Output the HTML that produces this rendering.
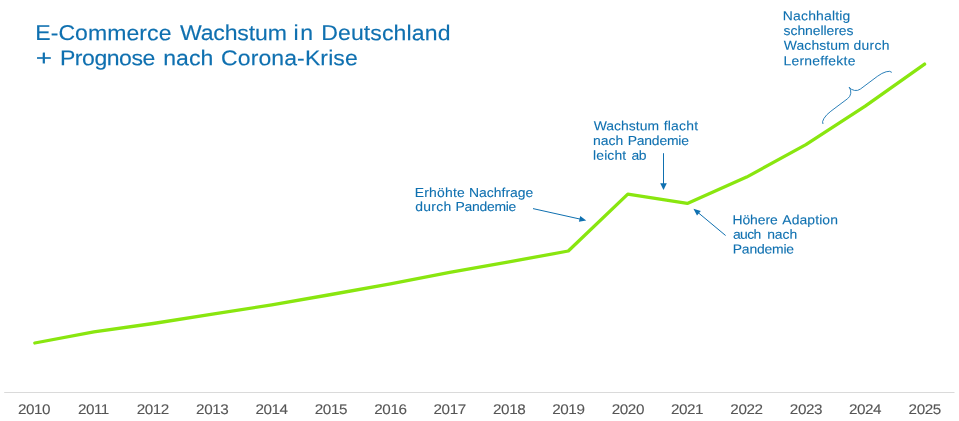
<!DOCTYPE html>
<html>
<head>
<meta charset="utf-8">
<style>
html,body{margin:0;padding:0;background:#fff;}
body{width:959px;height:421px;position:relative;overflow:hidden;font-family:"Liberation Sans",sans-serif;}
.l{position:absolute;white-space:nowrap;line-height:1;transform-origin:0 0;}
svg{position:absolute;left:0;top:0;}
.tx{position:absolute;left:0;top:0;width:959px;height:421px;will-change:transform;}
</style>
</head>
<body>
<svg width="959" height="421" viewBox="0 0 959 421">
  <line x1="4.2" y1="392.5" x2="954.5" y2="392.5" stroke="#dadada" stroke-width="1"/>
  <polyline fill="none" stroke="#89e60f" stroke-width="3.3" stroke-linecap="round" stroke-linejoin="round"
    points="34.8,343 93.9,331.8 153.2,323.5 212.5,314.1 271.8,304.9 331.1,294.5 390.4,283.8 449.7,272.3 509,261.9 568.3,251 627.8,194.1 687.3,203.4 746.6,177.1 805.9,144.6 865.2,106.2 924.6,64.1"/>
  <g stroke="#0f70b0" stroke-width="1" fill="#0f70b0">
    <line x1="533" y1="208.6" x2="581.5" y2="219.4"/>
    <polygon stroke="none" points="586.2,220.4 578.9,221.8 580.2,216.1"/>
    <line x1="663.5" y1="153.2" x2="663.5" y2="184"/>
    <polygon stroke="none" points="663.5,189.9 660.2,183.2 666.8,183.2"/>
    <line x1="725.6" y1="235.5" x2="697.5" y2="212.1"/>
    <polygon stroke="none" points="693.4,208.8 700.8,211 697,215.6"/>
  </g>
  <g transform="translate(823,124) rotate(-36.87)">
    <path fill="none" stroke="#2a7fb8" stroke-width="0.9" d="M0,0 A14,5.5 0 0 1 14,-5.5 L35,-5.5 A8,8.3 0 0 0 43,-13.8 A8,8.3 0 0 0 51,-5.5 L72,-5.5 A14,5.5 0 0 1 86,0"/>
  </g>
</svg>
<div class="tx">
<div class="l" style="left:35px;top:23px;font-size:21.5px;letter-spacing:0.078px;color:#0f70b0;-webkit-text-stroke:0.15px #0f70b0;transform:translate(0.25px,0.10px) rotate(0.03deg) scaleX(1.07)">E-Commerce</div>
<div class="l" style="left:180px;top:23px;font-size:21.5px;letter-spacing:-0.134px;color:#0f70b0;-webkit-text-stroke:0.15px #0f70b0;transform:translate(0.00px,0.10px) rotate(0.03deg) scaleX(1.07)">Wachstum</div>
<div class="l" style="left:293px;top:23px;font-size:21.5px;letter-spacing:1.495px;color:#0f70b0;-webkit-text-stroke:0.15px #0f70b0;transform:translate(0.60px,0.10px) rotate(0.03deg) scaleX(1.07)">in</div>
<div class="l" style="left:321px;top:23px;font-size:21.5px;letter-spacing:0.121px;color:#0f70b0;-webkit-text-stroke:0.15px #0f70b0;transform:translate(0.25px,0.10px) rotate(0.03deg) scaleX(1.07)">Deutschland</div>
<div class="l" style="left:35px;top:48px;font-size:21.5px;letter-spacing:0.000px;color:#0f70b0;-webkit-text-stroke:0.15px #0f70b0;transform:translate(0.75px,0.20px) rotate(0.03deg) scaleX(1.2981)">+</div>
<div class="l" style="left:59px;top:48px;font-size:21.5px;letter-spacing:-0.421px;color:#0f70b0;-webkit-text-stroke:0.15px #0f70b0;transform:translate(0.95px,0.20px) rotate(0.03deg) scaleX(1.07)">Prognose</div>
<div class="l" style="left:163px;top:48px;font-size:21.5px;letter-spacing:0.000px;color:#0f70b0;-webkit-text-stroke:0.15px #0f70b0;transform:translate(0.30px,0.20px) rotate(0.03deg) scaleX(1.07)">nach</div>
<div class="l" style="left:221px;top:48px;font-size:21.5px;letter-spacing:0.106px;color:#0f70b0;-webkit-text-stroke:0.15px #0f70b0;transform:translate(0.00px,0.20px) rotate(0.03deg) scaleX(1.07)">Corona-Krise</div>
<div class="l" style="left:414px;top:185px;font-size:13.0px;letter-spacing:0.187px;color:#0f70b0;-webkit-text-stroke:0.1px #0f70b0;transform:translate(0.80px,0.90px) rotate(0.03deg) scaleX(1.07)">Erhöhte</div>
<div class="l" style="left:469px;top:185px;font-size:13.0px;letter-spacing:0.012px;color:#0f70b0;-webkit-text-stroke:0.1px #0f70b0;transform:translate(0.00px,0.90px) rotate(0.03deg) scaleX(1.07)">Nachfrage</div>
<div class="l" style="left:415px;top:199px;font-size:13.0px;letter-spacing:0.245px;color:#0f70b0;-webkit-text-stroke:0.1px #0f70b0;transform:translate(0.30px,0.90px) rotate(0.03deg) scaleX(1.07)">durch</div>
<div class="l" style="left:455px;top:199px;font-size:13.0px;letter-spacing:-0.240px;color:#0f70b0;-webkit-text-stroke:0.1px #0f70b0;transform:translate(0.50px,0.90px) rotate(0.03deg) scaleX(1.07)">Pandemie</div>
<div class="l" style="left:593px;top:119px;font-size:13.0px;letter-spacing:0.027px;color:#0f70b0;-webkit-text-stroke:0.1px #0f70b0;transform:translate(0.70px,0.30px) rotate(0.03deg) scaleX(1.07)">Wachstum</div>
<div class="l" style="left:663px;top:119px;font-size:13.0px;letter-spacing:0.215px;color:#0f70b0;-webkit-text-stroke:0.1px #0f70b0;transform:translate(0.70px,0.30px) rotate(0.03deg) scaleX(1.07)">flacht</div>
<div class="l" style="left:593px;top:133px;font-size:13.0px;letter-spacing:-0.031px;color:#0f70b0;-webkit-text-stroke:0.1px #0f70b0;transform:translate(0.10px,0.90px) rotate(0.03deg) scaleX(1.07)">nach</div>
<div class="l" style="left:627px;top:133px;font-size:13.0px;letter-spacing:-0.187px;color:#0f70b0;-webkit-text-stroke:0.1px #0f70b0;transform:translate(0.70px,0.90px) rotate(0.03deg) scaleX(1.07)">Pandemie</div>
<div class="l" style="left:593px;top:148px;font-size:13.0px;letter-spacing:0.103px;color:#0f70b0;-webkit-text-stroke:0.1px #0f70b0;transform:translate(0.10px,0.70px) rotate(0.03deg) scaleX(1.07)">leicht</div>
<div class="l" style="left:631px;top:148px;font-size:13.0px;letter-spacing:-0.561px;color:#0f70b0;-webkit-text-stroke:0.1px #0f70b0;transform:translate(0.50px,0.70px) rotate(0.03deg) scaleX(1.07)">ab</div>
<div class="l" style="left:732px;top:213px;font-size:13.0px;letter-spacing:-0.084px;color:#0f70b0;-webkit-text-stroke:0.1px #0f70b0;transform:translate(0.50px,0.30px) rotate(0.03deg) scaleX(1.07)">Höhere</div>
<div class="l" style="left:782px;top:213px;font-size:13.0px;letter-spacing:0.093px;color:#0f70b0;-webkit-text-stroke:0.1px #0f70b0;transform:translate(0.30px,0.30px) rotate(0.03deg) scaleX(1.07)">Adaption</div>
<div class="l" style="left:732px;top:227px;font-size:13.0px;letter-spacing:-0.545px;color:#0f70b0;-webkit-text-stroke:0.1px #0f70b0;transform:translate(0.90px,0.70px) rotate(0.03deg) scaleX(1.07)">auch</div>
<div class="l" style="left:767px;top:227px;font-size:13.0px;letter-spacing:-0.016px;color:#0f70b0;-webkit-text-stroke:0.1px #0f70b0;transform:translate(0.15px,0.70px) rotate(0.03deg) scaleX(1.07)">nach</div>
<div class="l" style="left:732px;top:242px;font-size:13.0px;letter-spacing:-0.187px;color:#0f70b0;-webkit-text-stroke:0.1px #0f70b0;transform:translate(0.80px,0.50px) rotate(0.03deg) scaleX(1.07)">Pandemie</div>
<div class="l" style="left:782px;top:9px;font-size:13.0px;letter-spacing:0.171px;color:#0f70b0;-webkit-text-stroke:0.1px #0f70b0;transform:translate(0.85px,0.30px) rotate(0.03deg) scaleX(1.07)">Nachhaltig</div>
<div class="l" style="left:783px;top:23px;font-size:13.0px;letter-spacing:-0.042px;color:#0f70b0;-webkit-text-stroke:0.1px #0f70b0;transform:translate(0.60px,1.00px) rotate(0.03deg) scaleX(1.07)">schnelleres</div>
<div class="l" style="left:783px;top:38px;font-size:13.0px;letter-spacing:0.080px;color:#0f70b0;-webkit-text-stroke:0.1px #0f70b0;transform:translate(0.85px,0.80px) rotate(0.03deg) scaleX(1.07)">Wachstum</div>
<div class="l" style="left:853px;top:38px;font-size:13.0px;letter-spacing:0.315px;color:#0f70b0;-webkit-text-stroke:0.1px #0f70b0;transform:translate(0.40px,0.80px) rotate(0.03deg) scaleX(1.07)">durch</div>
<div class="l" style="left:783px;top:54px;font-size:13.0px;letter-spacing:0.248px;color:#0f70b0;-webkit-text-stroke:0.1px #0f70b0;transform:translate(0.40px,0.20px) rotate(0.03deg) scaleX(1.07)">Lerneffekte</div>
<div class="l" style="left:18px;top:401px;font-size:14px;letter-spacing:-0.413px;color:#555555;-webkit-text-stroke:0.1px #555555;transform:translate(0.00px,0.90px) rotate(0.03deg) scaleX(1.09)">2010</div>
<div class="l" style="left:77px;top:401px;font-size:14px;letter-spacing:-0.413px;color:#555555;-webkit-text-stroke:0.1px #555555;transform:translate(0.89px,0.90px) rotate(0.03deg) scaleX(1.09)">2011</div>
<div class="l" style="left:136px;top:401px;font-size:14px;letter-spacing:-0.413px;color:#555555;-webkit-text-stroke:0.1px #555555;transform:translate(0.75px,0.90px) rotate(0.03deg) scaleX(1.09)">2012</div>
<div class="l" style="left:196px;top:401px;font-size:14px;letter-spacing:-0.413px;color:#555555;-webkit-text-stroke:0.1px #555555;transform:translate(0.12px,0.90px) rotate(0.03deg) scaleX(1.09)">2013</div>
<div class="l" style="left:255px;top:401px;font-size:14px;letter-spacing:-0.413px;color:#555555;-webkit-text-stroke:0.1px #555555;transform:translate(0.48px,0.90px) rotate(0.03deg) scaleX(1.09)">2014</div>
<div class="l" style="left:314px;top:401px;font-size:14px;letter-spacing:-0.413px;color:#555555;-webkit-text-stroke:0.1px #555555;transform:translate(0.84px,0.90px) rotate(0.03deg) scaleX(1.09)">2015</div>
<div class="l" style="left:374px;top:401px;font-size:14px;letter-spacing:-0.413px;color:#555555;-webkit-text-stroke:0.1px #555555;transform:translate(0.33px,0.90px) rotate(0.03deg) scaleX(1.09)">2016</div>
<div class="l" style="left:433px;top:401px;font-size:14px;letter-spacing:-0.413px;color:#555555;-webkit-text-stroke:0.1px #555555;transform:translate(0.57px,0.90px) rotate(0.03deg) scaleX(1.09)">2017</div>
<div class="l" style="left:493px;top:401px;font-size:14px;letter-spacing:-0.413px;color:#555555;-webkit-text-stroke:0.1px #555555;transform:translate(0.06px,0.90px) rotate(0.03deg) scaleX(1.09)">2018</div>
<div class="l" style="left:552px;top:401px;font-size:14px;letter-spacing:-0.413px;color:#555555;-webkit-text-stroke:0.1px #555555;transform:translate(0.29px,0.90px) rotate(0.03deg) scaleX(1.09)">2019</div>
<div class="l" style="left:611px;top:401px;font-size:14px;letter-spacing:-0.413px;color:#555555;-webkit-text-stroke:0.1px #555555;transform:translate(0.78px,0.90px) rotate(0.03deg) scaleX(1.09)">2020</div>
<div class="l" style="left:671px;top:401px;font-size:14px;letter-spacing:-0.413px;color:#555555;-webkit-text-stroke:0.1px #555555;transform:translate(0.02px,0.90px) rotate(0.03deg) scaleX(1.09)">2021</div>
<div class="l" style="left:730px;top:401px;font-size:14px;letter-spacing:-0.413px;color:#555555;-webkit-text-stroke:0.1px #555555;transform:translate(0.38px,0.90px) rotate(0.03deg) scaleX(1.09)">2022</div>
<div class="l" style="left:789px;top:401px;font-size:14px;letter-spacing:-0.413px;color:#555555;-webkit-text-stroke:0.1px #555555;transform:translate(0.87px,0.90px) rotate(0.03deg) scaleX(1.09)">2023</div>
<div class="l" style="left:848px;top:401px;font-size:14px;letter-spacing:-0.413px;color:#555555;-webkit-text-stroke:0.1px #555555;transform:translate(0.99px,0.90px) rotate(0.03deg) scaleX(1.09)">2024</div>
<div class="l" style="left:908px;top:401px;font-size:14px;letter-spacing:-0.413px;color:#555555;-webkit-text-stroke:0.1px #555555;transform:translate(0.60px,0.90px) rotate(0.03deg) scaleX(1.09)">2025</div>
</div>
</body>
</html>
